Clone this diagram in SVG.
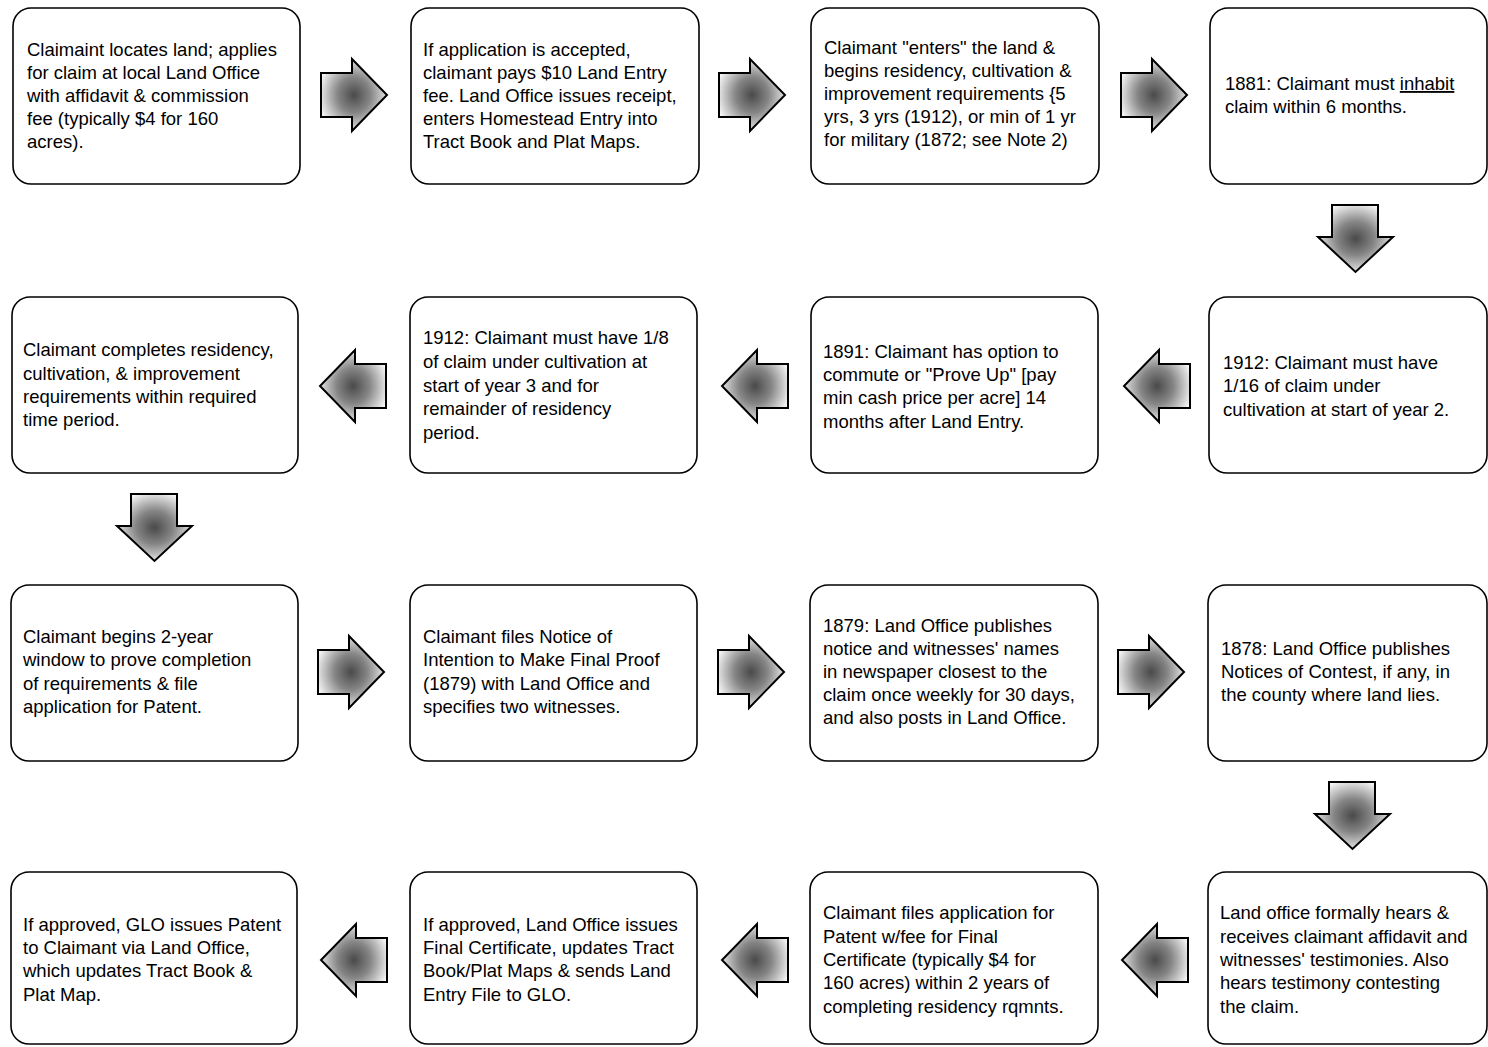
<svg xmlns="http://www.w3.org/2000/svg" width="1488" height="1047" viewBox="0 0 1488 1047">
<style>
.box{fill:#fff;stroke:#000;stroke-width:1.6}
text{font-family:"Liberation Sans",Arial,sans-serif;font-size:18.5px;fill:#000}
.arr{fill:url(#ag);stroke:#000;stroke-width:2;stroke-linejoin:miter}
</style>
<defs>
<radialGradient id="ag" cx="0.5" cy="0.5" r="0.55">
<stop offset="0" stop-color="#4a4a4a"/>
<stop offset="0.45" stop-color="#858585"/>
<stop offset="1" stop-color="#f6f6f6"/>
</radialGradient>
<path id="ra" d="M0,14 H31 V0 L66,36 L31,72 V58 H0 Z"/>
<path id="la" d="M66,14 H35 V0 L0,36 L35,72 V58 H66 Z"/>
<path id="da" d="M14,0 H60 V32 H75 L37.5,67 L0,32 H14 Z"/>
</defs>
<rect width="1488" height="1047" fill="#fff"/>
<g id="connectors">
<use href="#ra" class="arr" transform="translate(321,59)"/>
<use href="#ra" class="arr" transform="translate(719,59)"/>
<use href="#ra" class="arr" transform="translate(1121,59)"/>
<use href="#da" class="arr" transform="translate(1318,205)"/>
<use href="#la" class="arr" transform="translate(1124,350)"/>
<use href="#la" class="arr" transform="translate(722,350)"/>
<use href="#la" class="arr" transform="translate(320,350)"/>
<use href="#da" class="arr" transform="translate(117,494)"/>
<use href="#ra" class="arr" transform="translate(318,636)"/>
<use href="#ra" class="arr" transform="translate(718,636)"/>
<use href="#ra" class="arr" transform="translate(1118,636)"/>
<use href="#da" class="arr" transform="translate(1315,782)"/>
<use href="#la" class="arr" transform="translate(1122,924)"/>
<use href="#la" class="arr" transform="translate(722,924)"/>
<use href="#la" class="arr" transform="translate(321,924)"/>
</g>
<g id="n1"><rect class="box" x="13" y="8" width="287" height="176" rx="18"/>
<text><tspan x="27" y="56">Claimaint locates land; applies</tspan><tspan x="27" y="79">for claim at local Land Office</tspan><tspan x="27" y="102">with affidavit &amp; commission</tspan><tspan x="27" y="125">fee (typically $4 for 160</tspan><tspan x="27" y="148">acres).</tspan></text></g>
<g id="n2"><rect class="box" x="411" y="8" width="288" height="176" rx="18"/>
<text><tspan x="423" y="56">If application is accepted,</tspan><tspan x="423" y="79">claimant pays $10 Land Entry</tspan><tspan x="423" y="102">fee. Land Office issues receipt,</tspan><tspan x="423" y="125">enters Homestead Entry into</tspan><tspan x="423" y="148">Tract Book and Plat  Maps.</tspan></text></g>
<g id="n3"><rect class="box" x="811" y="8" width="288" height="176" rx="18"/>
<text><tspan x="824" y="54">Claimant "enters" the land &amp;</tspan><tspan x="824" y="77">begins residency, cultivation &amp;</tspan><tspan x="824" y="100">improvement requirements {5</tspan><tspan x="824" y="123">yrs, 3 yrs (1912), or min of 1 yr</tspan><tspan x="824" y="146">for military (1872; see Note 2)</tspan></text></g>
<g id="n4"><rect class="box" x="1210" y="8" width="277" height="176" rx="18"/>
<text><tspan x="1225" y="90">1881: Claimant must <tspan text-decoration="underline">inhabit</tspan></tspan><tspan x="1225" y="113">claim within 6 months.</tspan></text></g>
<g id="n5"><rect class="box" x="1209" y="297" width="278" height="176" rx="18"/>
<text><tspan x="1223" y="369">1912: Claimant must have</tspan><tspan x="1223" y="392">1/16 of claim under</tspan><tspan x="1223" y="416">cultivation at start of year 2.</tspan></text></g>
<g id="n6"><rect class="box" x="811" y="297" width="287" height="176" rx="18"/>
<text><tspan x="823" y="358">1891: Claimant has option to</tspan><tspan x="823" y="381">commute or "Prove Up" [pay</tspan><tspan x="823" y="404">min cash price per acre] 14</tspan><tspan x="823" y="428">months after Land Entry.</tspan></text></g>
<g id="n7"><rect class="box" x="410" y="297" width="287" height="176" rx="18"/>
<text><tspan x="423" y="344">1912: Claimant must have 1/8</tspan><tspan x="423" y="368">of claim under cultivation at</tspan><tspan x="423" y="392">start of year 3 and for</tspan><tspan x="423" y="415">remainder of residency</tspan><tspan x="423" y="439">period.</tspan></text></g>
<g id="n8"><rect class="box" x="12" y="297" width="286" height="176" rx="18"/>
<text><tspan x="23" y="356">Claimant completes residency,</tspan><tspan x="23" y="380">cultivation, &amp; improvement</tspan><tspan x="23" y="403">requirements within required</tspan><tspan x="23" y="426">time period.</tspan></text></g>
<g id="n9"><rect class="box" x="11" y="585" width="287" height="176" rx="18"/>
<text><tspan x="23" y="643">Claimant begins 2-year</tspan><tspan x="23" y="666">window to prove completion</tspan><tspan x="23" y="690">of requirements &amp; file</tspan><tspan x="23" y="713">application for Patent.</tspan></text></g>
<g id="n10"><rect class="box" x="410" y="585" width="287" height="176" rx="18"/>
<text><tspan x="423" y="643">Claimant files Notice of</tspan><tspan x="423" y="666">Intention to Make Final Proof</tspan><tspan x="423" y="690">(1879) with Land Office and</tspan><tspan x="423" y="713">specifies two witnesses.</tspan></text></g>
<g id="n11"><rect class="box" x="810" y="585" width="288" height="176" rx="18"/>
<text><tspan x="823" y="632">1879: Land Office publishes</tspan><tspan x="823" y="655">notice and witnesses' names</tspan><tspan x="823" y="678">in newspaper closest to the</tspan><tspan x="823" y="701">claim once weekly for 30 days,</tspan><tspan x="823" y="724">and also posts in Land Office.</tspan></text></g>
<g id="n12"><rect class="box" x="1208" y="585" width="279" height="176" rx="18"/>
<text><tspan x="1221" y="655">1878: Land Office publishes</tspan><tspan x="1221" y="678">Notices of Contest, if any, in</tspan><tspan x="1221" y="701">the county where land lies.</tspan></text></g>
<g id="n13"><rect class="box" x="1208" y="872" width="279" height="172" rx="18"/>
<text><tspan x="1220" y="919">Land office formally hears &amp;</tspan><tspan x="1220" y="943">receives claimant affidavit and</tspan><tspan x="1220" y="966">witnesses' testimonies.  Also</tspan><tspan x="1220" y="989">hears testimony contesting</tspan><tspan x="1220" y="1013">the claim.</tspan></text></g>
<g id="n14"><rect class="box" x="810" y="872" width="288" height="172" rx="18"/>
<text><tspan x="823" y="919">Claimant files application for</tspan><tspan x="823" y="943">Patent w/fee for Final</tspan><tspan x="823" y="966">Certificate (typically $4 for</tspan><tspan x="823" y="989">160 acres) within 2 years of</tspan><tspan x="823" y="1013">completing residency rqmnts.</tspan></text></g>
<g id="n15"><rect class="box" x="410" y="872" width="287" height="172" rx="18"/>
<text><tspan x="423" y="931">If approved, Land Office issues</tspan><tspan x="423" y="954">Final Certificate, updates Tract</tspan><tspan x="423" y="977">Book/Plat Maps &amp; sends Land</tspan><tspan x="423" y="1001">Entry File to GLO.</tspan></text></g>
<g id="n16"><rect class="box" x="11" y="872" width="286" height="172" rx="18"/>
<text><tspan x="23" y="931">If approved, GLO issues Patent</tspan><tspan x="23" y="954">to Claimant via Land Office,</tspan><tspan x="23" y="977">which updates Tract Book &amp;</tspan><tspan x="23" y="1001">Plat Map.</tspan></text></g>
</svg>
